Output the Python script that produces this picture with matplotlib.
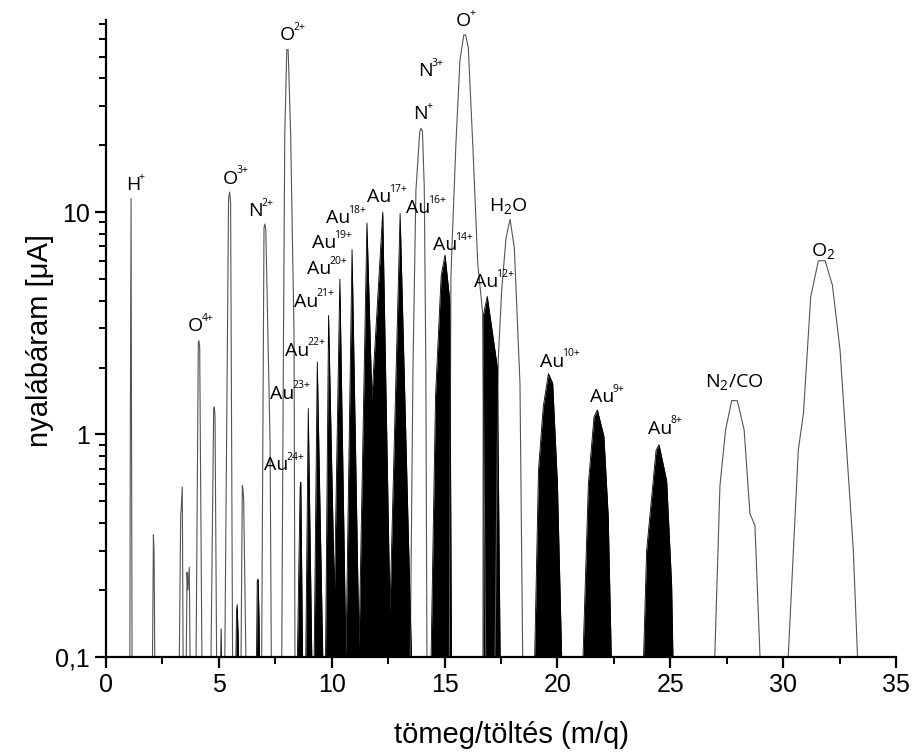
import numpy as np
import matplotlib.pyplot as plt
from matplotlib.ticker import FixedLocator, FixedFormatter, MultipleLocator

# light ions (outlined peaks), m/q < 8.5
light_x = [1.05, 1.08, 1.11, 1.13, 1.16,
           2.04, 2.10, 2.13, 2.18,
           3.22, 3.31, 3.33, 3.38, 3.43,
           3.53, 3.59, 3.63, 3.69, 3.75,
           3.97, 4.09, 4.11, 4.15, 4.27,
           4.62, 4.77, 4.80, 4.83, 4.92,
           5.24, 5.43, 5.48, 5.52, 5.62,
           5.96, 6.04, 6.07, 6.10, 6.24,
           6.88, 7.00, 7.04, 7.08, 7.27, 7.34,
           7.77, 7.86, 7.92, 8.01, 8.07, 8.18, 8.33, 8.38]
light_y = [0.05, 1.25, 11.5, 1.25, 0.05,
           0.05, 0.354, 0.30, 0.05,
           0.05, 0.44, 0.46, 0.58, 0.05,
           0.05, 0.24, 0.20, 0.253, 0.05,
           0.05, 2.60, 2.64, 2.50, 0.05,
           0.05, 1.30, 1.33, 1.20, 0.05,
           0.05, 11.5, 12.3, 11.0, 0.05,
           0.05, 0.59, 0.57, 0.50, 0.05,
           0.05, 8.5, 8.83, 8.3, 0.91, 0.05,
           0.05, 2.40, 22.4, 53.7, 53.7, 22.4, 2.84, 0.05]

# N+, O+, H2O
gas_x = [13.45, 13.60, 13.73, 13.90, 13.96, 14.02, 14.10, 14.17, 14.23,
         15.20, 15.28, 15.32, 15.50, 15.68, 15.85, 15.93, 16.05, 16.25, 16.47, 16.69, 16.85,
         17.20, 17.38, 17.53, 17.72, 17.90, 18.09, 18.34, 18.49]
gas_y = [0.05, 2.0, 12.5, 23.0, 23.8, 23.0, 12.9, 2.0, 0.05,
         0.05, 5.0, 6.7, 20.0, 48.0, 62.5, 62.5, 55.0, 20.0, 5.87, 3.5, 0.05,
         0.05, 2.2, 4.45, 7.6, 9.27, 6.9, 1.7, 0.05]

# N2/CO and O2
mol_x = [26.88, 27.20, 27.45, 27.72, 27.97, 28.27, 28.53, 28.75, 29.09,
         30.08, 30.67, 30.90, 31.22, 31.56, 31.86, 32.18, 32.52, 33.11, 33.41]
mol_y = [0.05, 0.59, 1.05, 1.42, 1.42, 1.05, 0.44, 0.39, 0.05,
         0.05, 0.85, 1.25, 4.15, 6.04, 6.04, 4.7, 2.4, 0.30, 0.05]

# filled (Au and other black) peaks
au_x = [5.05, 5.10, 5.14,
        5.72, 5.78, 5.81, 5.86, 5.91,
        6.64, 6.70, 6.74, 6.78, 6.83,
        8.43, 8.60, 8.63, 8.74,
        8.82, 8.96, 9.16,
        9.19, 9.36, 9.66,
        9.70, 9.86, 10.12, 10.36, 10.63, 10.90, 11.21, 11.56, 11.78, 12.26, 12.58, 13.03, 13.61,
        14.35, 14.60, 14.85, 15.02, 15.23, 15.32,
        16.70, 16.71, 16.89, 17.34, 17.49,
        18.93, 19.16, 19.37, 19.60, 19.79, 20.00, 20.26,
        21.04, 21.37, 21.62, 21.77, 22.06, 22.25, 22.45,
        23.73, 23.95, 24.37, 24.50, 24.84, 25.06, 25.17]
au_y = [0.05, 0.134, 0.05,
        0.05, 0.16, 0.172, 0.12, 0.05,
        0.05, 0.22, 0.224, 0.15, 0.05,
        0.05, 0.58, 0.61, 0.05,
        0.05, 1.31, 0.05,
        0.05, 2.12, 0.05,
        0.05, 3.43, 0.19, 4.99, 0.10, 6.78, 0.11, 8.93, 1.45, 10.0, 0.16, 9.85, 0.05,
        0.05, 1.5, 5.2, 6.41, 4.0, 0.05,
        0.05, 3.4, 4.18, 2.0, 0.05,
        0.05, 0.69, 1.33, 1.88, 1.70, 0.60, 0.05,
        0.05, 0.60, 1.20, 1.29, 0.98, 0.43, 0.05,
        0.05, 0.30, 0.85, 0.90, 0.62, 0.21, 0.05]

# ion labels: base text, superscript, anchor (end of base text, baseline)
ion_base = ['H', 'O', 'O', 'N', 'O',
            'Au', 'Au', 'Au', 'Au', 'Au',
            'Au', 'Au', 'Au', 'Au', 'N',
            'N', 'O', 'Au', 'Au',
            'Au', 'Au', 'Au']
ion_sup = ['+', '4+', '3+', '2+', '2+',
           '24+', '23+', '22+', '21+', '20+',
           '19+', '18+', '17+', '16+', '+',
           '3+', '+', '14+', '12+',
           '10+', '9+', '8+']
ion_x = [1.51, 4.30, 5.85, 6.96, 8.37,
         8.06, 8.33, 8.99, 9.39, 9.97,
         10.19, 10.81, 12.63, 14.35, 14.27,
         14.49, 16.19, 15.55, 17.37,
         20.29, 22.51, 25.08]
ion_y = [12.56, 2.92, 13.4, 9.6, 59.3,
         0.69, 1.45, 2.26, 3.75, 5.26,
         6.87, 8.9, 11.1, 9.87, 26.1,
         40.8, 68.5, 6.75, 4.59,
         2.02, 1.40, 1.01]

# molecule labels (centre, baseline)
mol_labels = ['H$_{2}$O', 'N$_{2}$/CO', 'O$_{2}$']
mol_lx = [17.81, 27.85, 31.77]
mol_ly = [10.14, 1.64, 6.34]

plt.rcParams['mathtext.fontset'] = 'custom'
plt.rcParams['mathtext.rm'] = 'Open Sans'
plt.rcParams['mathtext.it'] = 'Open Sans'
plt.rcParams['mathtext.default'] = 'regular'

fig = plt.figure(figsize=(9.13, 7.56), dpi=100)
ax = fig.add_axes([0.1161, 0.131, 0.8653, 0.8426])

line_kw = dict(color='#555555', lw=0.8)
ax.plot(light_x, light_y, **line_kw)
ax.plot(gas_x, gas_y, **line_kw)
ax.plot(mol_x, mol_y, **line_kw)
ax.fill_between(au_x, au_y, 0.01, color='black', lw=0)
ax.plot(au_x, au_y, color='black', lw=0.6)

for b, s, x, y in zip(ion_base, ion_sup, ion_x, ion_y):
    ax.text(x, y, b, ha='right', va='baseline', fontsize=14, family='Open Sans')
    ax.annotate(s, xy=(x, y), xytext=(-1.2, 7.5), textcoords='offset points',
                ha='left', va='baseline', fontsize=7.5, family='Open Sans')
for t, x, y in zip(mol_labels, mol_lx, mol_ly):
    ax.text(x, y, t, ha='center', va='baseline', fontsize=14, family='Open Sans')

ax.set_yscale('log')
ax.set_xlim(0, 35)
ax.set_ylim(0.1, 73)

for s in ['top', 'right']:
    ax.spines[s].set_visible(False)
for s in ['left', 'bottom']:
    ax.spines[s].set_linewidth(1.6)

ax.xaxis.set_major_locator(MultipleLocator(5))
ax.xaxis.set_minor_locator(MultipleLocator(2.5))
ax.yaxis.set_major_locator(FixedLocator([0.1, 1, 10]))
ax.yaxis.set_major_formatter(FixedFormatter(['0,1', '1', '10']))
minor = [m * d for d in [0.1, 1, 10] for m in range(2, 10)]
ax.yaxis.set_minor_locator(FixedLocator(minor))
ax.yaxis.set_minor_formatter(FixedFormatter([''] * len(minor)))

ax.tick_params(which='major', direction='out', length=8, width=1.6, labelsize=18)
ax.tick_params(which='minor', direction='out', length=5, width=1.4)
for lab in ax.get_xticklabels() + ax.get_yticklabels():
    lab.set_family('Liberation Sans')

fig.text(0.56, 0.028, 'tömeg/töltés (m/q)', ha='center', va='center',
         fontsize=21, family='Liberation Sans')
fig.text(0.044, 0.55, 'nyalábáram [μA]', ha='center', va='center',
         rotation=90, fontsize=21, family='Liberation Sans')

fig.savefig('out.png', dpi=100)
